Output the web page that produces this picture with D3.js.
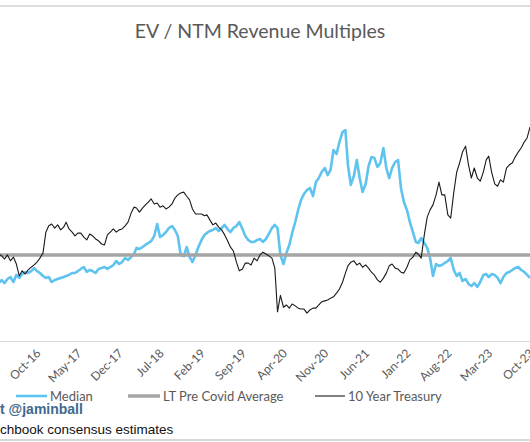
<!DOCTYPE html>
<html>
<head>
<meta charset="utf-8">
<script src="https://cdn.jsdelivr.net/npm/d3@7"></script>
<style>
  html, body { margin: 0; padding: 0; background: #ffffff; }
  svg { display: block; font-family: Lato, "Open Sans", sans-serif; }
</style>
</head>
<body>
<svg id="chart" width="530" height="442"></svg>
<script>
// ---------------- DATA ----------------
const chartTitle = "EV / NTM Revenue Multiples";
// semi-monthly observations (1st and 16th of each month) from Mar 2016
const firstMonth = "2016-03";
const seriesNames = ["Median", "LT Pre Covid Average", "10 Year Treasury"];
const tickLabels = ["Oct-16","May-17","Dec-17","Jul-18","Feb-19","Sep-19","Apr-20",
                    "Nov-20","Jun-21","Jan-22","Aug-22","Mar-23","Oct-23"];
const ltPreCovidAverage = 7.0;

const medianMultiple = [
  5.27,5.13,5.33,5.13,5.40,5.53,5.20,5.67,5.47,5.73,5.87,5.80,5.93,6.13,5.93,5.80,5.60,5.47,5.53,5.20,
  5.33,5.40,5.47,5.53,5.60,5.67,5.80,5.80,5.93,6.07,6.20,5.87,6.00,5.93,5.80,6.07,6.13,6.20,6.07,6.20,
  6.33,6.60,6.40,6.53,6.80,6.67,6.87,7.07,7.47,7.40,7.53,7.67,7.80,7.93,8.27,9.07,8.20,8.33,8.53,8.80,
  8.93,8.67,8.27,7.00,6.93,7.53,6.87,6.53,7.00,7.53,8.00,8.33,8.47,8.60,8.67,8.80,8.60,8.80,9.00,8.73,
  8.53,8.80,8.93,9.20,8.73,8.27,8.00,7.87,7.87,8.00,8.07,7.87,8.07,8.40,8.80,9.00,8.80,7.00,6.40,7.13,
  7.67,8.47,9.20,10.00,10.67,11.07,11.33,11.47,10.93,11.87,12.13,12.53,12.80,12.33,12.67,14.00,13.73,14.53,15.20,15.33,
  13.00,11.67,12.27,13.33,12.13,11.20,11.73,12.93,13.53,13.47,12.87,13.13,14.13,12.80,12.13,12.80,13.20,13.33,11.47,10.53,
  10.00,9.20,8.53,7.87,7.80,8.13,7.80,7.47,6.80,5.60,6.40,6.27,6.33,6.47,6.60,6.80,6.00,5.60,5.80,5.27,
  5.40,5.07,4.93,5.13,4.87,5.20,5.67,5.73,5.53,5.73,5.67,5.47,5.13,5.53,5.80,5.87,6.00,6.13,6.20,6.00,
  5.87,5.67,5.47
];

const treasury10y = [
  1.93,1.89,1.85,1.78,1.87,1.74,1.82,1.67,1.41,1.52,1.45,1.54,1.60,1.65,1.71,1.80,1.91,2.37,2.51,2.55,
  2.46,2.53,2.42,2.48,2.59,2.44,2.37,2.29,2.35,2.35,2.26,2.20,2.33,2.29,2.22,2.18,2.11,2.09,2.31,2.37,
  2.44,2.37,2.42,2.44,2.51,2.59,2.79,2.92,2.90,2.81,2.90,2.97,3.03,3.10,2.99,3.01,2.92,2.95,2.88,2.92,
  2.99,3.12,3.19,3.23,3.25,3.16,3.08,2.88,2.77,2.77,2.77,2.73,2.75,2.64,2.53,2.57,2.48,2.42,2.31,2.18,
  2.04,1.96,1.71,1.52,1.56,1.69,1.69,1.65,1.80,1.74,1.87,1.93,1.89,1.85,1.80,1.58,0.62,0.98,0.72,0.77,
  0.70,0.79,0.75,0.70,0.68,0.68,0.59,0.66,0.70,0.70,0.77,0.84,0.86,0.88,0.92,0.95,1.03,1.12,1.27,1.47,
  1.63,1.71,1.74,1.65,1.69,1.60,1.65,1.58,1.49,1.43,1.32,1.27,1.36,1.47,1.63,1.67,1.58,1.56,1.49,1.47,
  1.60,1.76,1.82,1.93,1.89,1.80,2.31,2.70,2.86,2.97,3.19,3.47,3.19,3.19,2.75,2.68,3.25,3.69,3.89,4.13,
  4.26,3.85,3.56,3.78,3.56,3.49,3.69,3.96,4.04,3.69,3.43,3.38,3.52,3.47,3.78,3.85,3.89,4.02,4.13,4.22,
  4.35,4.44,4.68
];

const footerHandle = "t @jaminball";
const footerSource = "chbook consensus estimates";

// ---------------- BUILD ----------------
const W = 530, H = 442;
const svg = d3.select("#chart");
const n = Math.min(medianMultiple.length, treasury10y.length);

// observation dates: 1st and 16th of each month
const start = d3.timeParse("%Y-%m")(firstMonth);
const dates = [];
for (let i = 0; i < n; i++) {
  const m = d3.timeMonth.offset(start, Math.floor(i / 2));
  dates.push(i % 2 === 0 ? m : d3.timeDay.offset(m, 15));
}
const rows = dates.map((d, i) => ({ date: d, median: medianMultiple[i], ty: treasury10y[i], avg: ltPreCovidAverage }));

const parseTick = d3.timeParse("%b-%y");
const tickDates = tickLabels.map(parseTick);

const x = d3.scaleTime()
  .domain([tickDates[0], tickDates[tickDates.length - 1]])
  .range([37, 530]);
const yLeft = d3.scaleLinear().domain([0, 16]).range([360, 120]);
const yRight = d3.scaleLinear().domain([0, 5]).range([340, 112.5]);

const axisY = 341;

// frame lines
svg.append("rect").attr("x", 0).attr("y", 5).attr("width", W).attr("height", 2).attr("fill", "#dedede");
svg.append("rect").attr("x", 0).attr("y", 439).attr("width", W).attr("height", 2).attr("fill", "#d6d6d6");

// title
svg.append("text")
  .attr("x", 260).attr("y", 38)
  .attr("text-anchor", "middle")
  .attr("font-size", 19.5)
  .attr("fill", "#595959")
  .text(chartTitle);

// plot clip
svg.append("clipPath").attr("id", "plotclip")
  .append("rect").attr("x", 0).attr("y", 40).attr("width", W).attr("height", axisY - 40);
const plot = svg.append("g").attr("clip-path", "url(#plotclip)");

const lineMedian = d3.line().x(d => x(d.date)).y(d => yLeft(d.median));
const lineAvg = d3.line().x(d => x(d.date)).y(d => yLeft(d.avg));
const lineTy = d3.line().x(d => x(d.date)).y(d => yRight(d.ty));

plot.append("path").datum(rows)
  .attr("d", lineMedian).attr("fill", "none")
  .attr("stroke", "#5ec3ef").attr("stroke-width", 2.6).attr("stroke-linejoin", "round");
plot.append("path").datum([{date: d3.timeMonth.offset(start, -3), avg: ltPreCovidAverage}, ...rows, {date: d3.timeMonth.offset(dates[dates.length-1], 3), avg: ltPreCovidAverage}])
  .attr("d", lineAvg).attr("fill", "none")
  .attr("stroke", "#a5a5a5").attr("stroke-width", 3.5);
plot.append("path").datum(rows)
  .attr("d", lineTy).attr("fill", "none")
  .attr("stroke", "#1a1a1a").attr("stroke-width", 1.1).attr("stroke-linejoin", "round");

// x axis
const xAxis = d3.axisBottom(x).tickValues(tickDates).tickSize(0).tickFormat((d, i) => tickLabels[i]);
const gx = svg.append("g").attr("transform", `translate(0,${axisY})`).call(xAxis);
gx.select(".domain").attr("stroke", "#d9d9d9").attr("stroke-width", 1.2)
  .attr("d", `M0,0.5H${W}`);
gx.selectAll(".tick text")
  .attr("font-family", "Lato, 'Open Sans', sans-serif")
  .attr("font-size", 12)
  .attr("fill", "#595959")
  .attr("text-anchor", "end")
  .attr("dy", null)
  .attr("y", null)
  .attr("transform", "translate(4,13) rotate(-45)");

// legend
const legendY = 396;
const legendItems = [
  { name: seriesNames[0], x1: 16, x2: 47, color: "#5ec3ef", w: 2.6 },
  { name: seriesNames[1], x1: 128, x2: 160, color: "#a5a5a5", w: 3.5 },
  { name: seriesNames[2], x1: 315, x2: 345, color: "#1a1a1a", w: 1.1 }
];
const lg = svg.append("g");
legendItems.forEach(it => {
  lg.append("line").attr("x1", it.x1).attr("x2", it.x2).attr("y1", legendY).attr("y2", legendY)
    .attr("stroke", it.color).attr("stroke-width", it.w);
  lg.append("text").attr("x", it.x2 + 3).attr("y", legendY + 5)
    .attr("font-size", 13).attr("fill", "#595959").text(it.name);
});

// footer
svg.append("text").attr("x", 0).attr("y", 414)
  .attr("font-family", "'Liberation Sans', Arial, sans-serif")
  .attr("font-weight", "bold").attr("font-size", 14).attr("fill", "#40698e")
  .text(footerHandle);
svg.append("text").attr("x", 0).attr("y", 434)
  .attr("font-family", "'Liberation Sans', Arial, sans-serif")
  .attr("font-size", 13.5).attr("fill", "#111111")
  .text(footerSource);
</script>
</body>
</html>
